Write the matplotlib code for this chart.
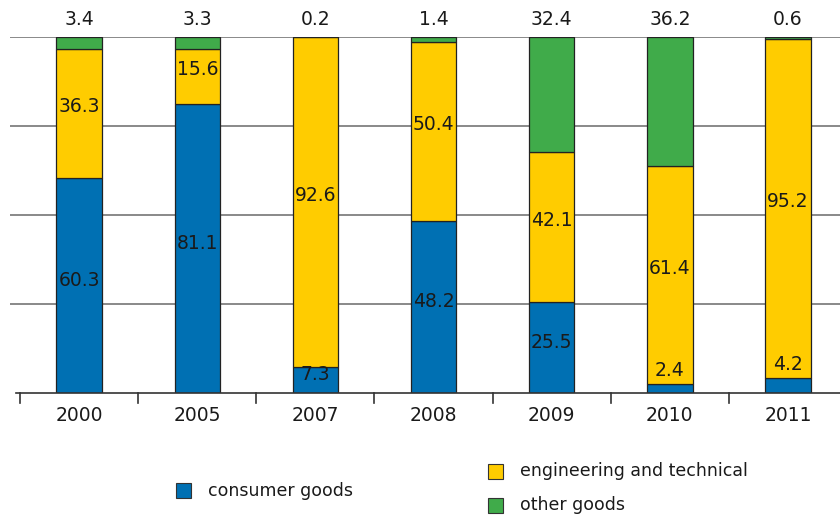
import matplotlib
matplotlib.use("Agg")
import matplotlib.pyplot as plt
from matplotlib.patches import Rectangle

# data
years = ["2000", "2005", "2007", "2008", "2009", "2010", "2011"]
consumer = [60.3, 81.1, 7.3, 48.2, 25.5, 2.4, 4.2]
engineering = [36.3, 15.6, 92.6, 50.4, 42.1, 61.4, 95.2]
other = [3.4, 3.3, 0.2, 1.4, 32.4, 36.2, 0.6]
series_names = ["consumer goods", "engineering and technical", "other goods"]

BLUE = "#0070b3"
YELLOW = "#ffcc00"
GREEN = "#40ab4a"
TXT = "#1a1a1a"
GRID = "#808080"

plt.rcParams["font.family"] = ["DejaVu Sans"]

fig = plt.figure(figsize=(8.4, 5.17), dpi=100)
W, H = 840, 517
ax = fig.add_axes([10 / W, (H - 393) / H, 830 / W, (393 - 37) / H])
ax.set_xlim(-0.585, 6.44)
ax.set_ylim(0, 100)
ax.axis("off")

# gridlines
for g in [25, 50, 75, 100]:
    ax.axhline(g, color=GRID, lw=1.3, zorder=0)

x = list(range(len(years)))
bw = 0.385
edge = dict(edgecolor="#222222", linewidth=0.9)
ax.bar(x, consumer, bw, color=BLUE, zorder=2, **edge)
ax.bar(x, engineering, bw, bottom=consumer, color=YELLOW, zorder=2, **edge)
bottoms = [c + e for c, e in zip(consumer, engineering)]
ax.bar(x, other, bw, bottom=bottoms, color=GREEN, zorder=2, **edge)

fs = 13.5
for i in x:
    c, e, o = consumer[i], engineering[i], other[i]
    # consumer goods label
    if c >= 5:
        ax.text(i, c / 2 + 1.5, f"{c}", ha="center", va="center", fontsize=fs, color=TXT, zorder=3)
    else:
        ax.text(i, c + 3.8, f"{c}", ha="center", va="center", fontsize=fs, color=TXT, zorder=3)
    # engineering label
    ax.text(i, c + e / 2 + 2, f"{e}", ha="center", va="center", fontsize=fs, color=TXT, zorder=3)
    # other goods label above the bar
    ax.text(i, 105.0, f"{o}", ha="center", va="center", fontsize=fs, color=TXT, clip_on=False)
    # year label
    ax.text(i, -6.4, years[i], ha="center", va="center", fontsize=fs, color=TXT, clip_on=False)

# baseline and ticks between categories
ax.plot([-0.535, 6.44], [0, 0], color="#333333", lw=1.2, clip_on=False, zorder=3)
for b in [k - 0.5 for k in range(len(years))]:
    ax.plot([b, b], [0, -2.9], color="#333333", lw=1.2, clip_on=False)

# legend
def legend_item(px, py, color, label):
    fig.patches.append(Rectangle((px / W, (H - py - 15) / H), 15 / W, 15 / H,
                                 transform=fig.transFigure, facecolor=color,
                                 edgecolor="#333333", lw=0.8))
    fig.text((px + 32) / W, (H - py - 7.5) / H, label, fontsize=12.5,
             color=TXT, va="center", ha="left")

legend_item(176, 483, BLUE, series_names[0])
legend_item(488, 464, YELLOW, series_names[1])
legend_item(488, 498, GREEN, series_names[2])

fig.savefig("out.png", dpi=100)
